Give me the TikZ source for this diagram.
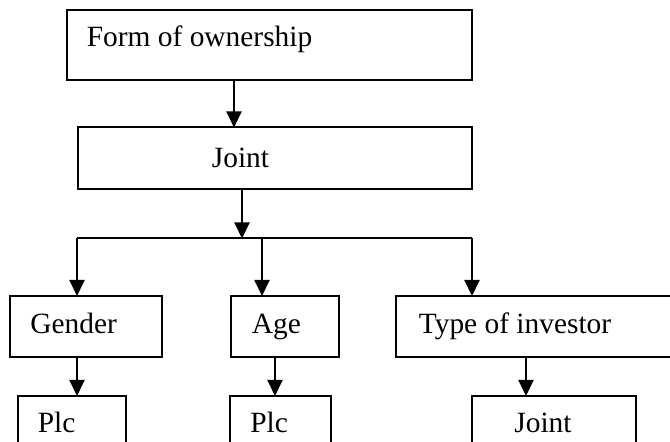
\documentclass[tikz,border=0pt]{standalone}
\usepackage{fontspec}
\setmainfont{Liberation Serif}
\usetikzlibrary{arrows.meta}
\begin{document}
\begin{tikzpicture}[x=0.5pt,y=-0.5pt,
  box/.style={draw=black, line width=1pt, inner sep=0pt, outer sep=0pt},
  lbl/.style={anchor=base west, inner sep=0pt, font=\fontsize{14.7}{17}\selectfont},
  arr/.style={line width=1pt, -{Triangle[length=8pt,width=7.5pt]}},
  wire/.style={line width=1pt}]
\useasboundingbox (0,0) rectangle (670,442);
\clip (0,0) rectangle (670,442);

% boxes
\node[box, minimum width=202.5pt, minimum height=35.25pt] (form)   at (269,45.25)   {};
\node[box, minimum width=197pt,   minimum height=30.75pt] (joint)  at (274.5,158.25) {};
\node[box, minimum width=76pt,    minimum height=30.5pt]  (gender) at (85.5,326.5)  {};
\node[box, minimum width=53.75pt, minimum height=30.5pt]  (age)    at (284.75,326.5) {};
\node[box, minimum width=152pt,   minimum height=30.5pt]  (type)   at (548,326.5)   {};
\node[box, minimum width=54.25pt, minimum height=52pt]    (plcA)   at (71.75,448)   {};
\node[box, minimum width=50.75pt, minimum height=52pt]    (plcB)   at (280.25,448)  {};
\node[box, minimum width=82pt,    minimum height=52pt]    (jointB) at (553.5,448)   {};

% labels
\node[lbl] (formtxt)   at (86.5,46.7)  {Form of ownership};
\node[lbl] (jointtxt)  at (211.5,167.7) {Joint};
\node[lbl] (gendertxt) at (30,333.3)   {Gender};
\node[lbl] (agetxt)    at (251.5,333.3) {Age};
\node[lbl] (typetxt)   at (418.5,333.3) {Type of investor};
\node[lbl] (plcAtxt)   at (37.5,432.3) {Plc};
\node[lbl] (plcBtxt)   at (250,432.3)  {Plc};
\node[lbl] (jointBtxt) at (514,432.3)  {Joint};

% connector positions
\coordinate (cA) at (234,0);
\coordinate (cB) at (242,0);
\coordinate (busL) at (77,238.5);
\coordinate (busM) at (262,238.5);
\coordinate (busR) at (472,238.5);
\coordinate (busJ) at (242,238.5);
\coordinate (dG) at (77,0);
\coordinate (dA) at (275,0);
\coordinate (dT) at (526,0);

% connectors
\draw[arr] (form.south -| cA) -- (joint.north -| cA);
\draw[arr] (joint.south -| cB) -- (busJ);
\draw[wire] (busL) -- (busR);
\draw[arr] (busL) -- (gender.north -| busL);
\draw[arr] (busM) -- (age.north -| busM);
\draw[arr] (busR) -- (type.north -| busR);
\draw[arr] (gender.south -| dG) -- (plcA.north -| dG);
\draw[arr] (age.south -| dA) -- (plcB.north -| dA);
\draw[arr] (type.south -| dT) -- (jointB.north -| dT);
\end{tikzpicture}
\end{document}
